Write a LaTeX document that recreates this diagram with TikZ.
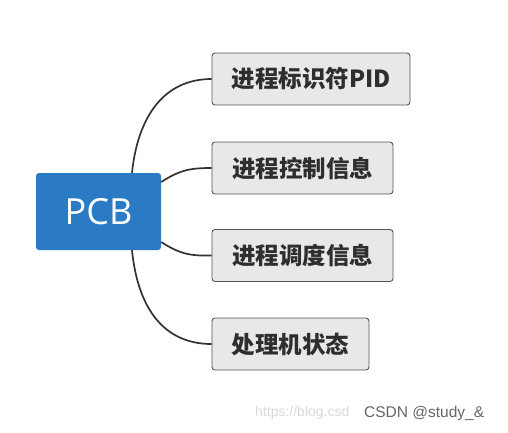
\documentclass[tikz,border=0pt]{standalone}
\usepackage{fontspec}
\setmainfont{Open Sans}
\newfontfamily\cjk{Noto Sans CJK SC}
\newfontfamily\wmfont{Liberation Sans}
\definecolor{pcbblue}{HTML}{2B7AC4}
\definecolor{boxfill}{HTML}{E8E8E8}
\definecolor{boxline}{HTML}{555555}
\definecolor{txt}{HTML}{2E2E2E}
\definecolor{wire}{HTML}{333333}
\begin{document}
\begin{tikzpicture}[x=1pt,y=-1pt,
  rootbox/.style={fill=pcbblue,draw=none,rounded corners=3pt,minimum width=125pt,minimum height=77pt,
    text=white,font=\fontsize{36}{40}\selectfont,inner sep=0pt},
  childbox/.style={fill=boxfill,draw=boxline,line width=0.9pt,rounded corners=3pt,minimum height=52pt,
    text=txt,font=\cjk\bfseries\fontsize{23.5}{26}\selectfont,inner sep=0pt},
  wireline/.style={draw=wire,line width=1.7pt}]
\useasboundingbox (0,0) rectangle (508,432);
\fill[white] (0,0) rectangle (508,432);
\node[rootbox] (pcb) at (98.5,211.5) {PCB};
\node[childbox,minimum width=198pt] (c1) at (311,79) {进程标识符PID};
\node[childbox,minimum width=181pt] (c2) at (302.5,168) {进程控制信息};
\node[childbox,minimum width=181pt] (c3) at (302.5,255.5) {进程调度信息};
\node[childbox,minimum width=157pt] (c4) at (290.5,344) {处理机状态};
\draw[wireline] ([xshift=33.5pt]pcb.north) .. controls (138,115) and (165,79) .. (c1.west);
\draw[wireline] ([yshift=29.5pt]pcb.east) .. controls (180,170) and (190,168) .. (c2.west);
\draw[wireline] ([yshift=-30.5pt]pcb.east) .. controls (180,254) and (190,256) .. (c3.west);
\draw[wireline] ([xshift=33.5pt]pcb.south) .. controls (138,310) and (165,344) .. (c4.west);
\node[anchor=west,inner sep=0pt,text=black!15,font=\wmfont\fontsize{14}{16}\selectfont] (url) at (255,413) {https://blog.csd};
\node[anchor=west,inner sep=0pt,text=black!60,font=\wmfont\fontsize{15.5}{17}\selectfont] (wm) at (364,413) {CSDN @study\_\&};
\end{tikzpicture}
\end{document}
